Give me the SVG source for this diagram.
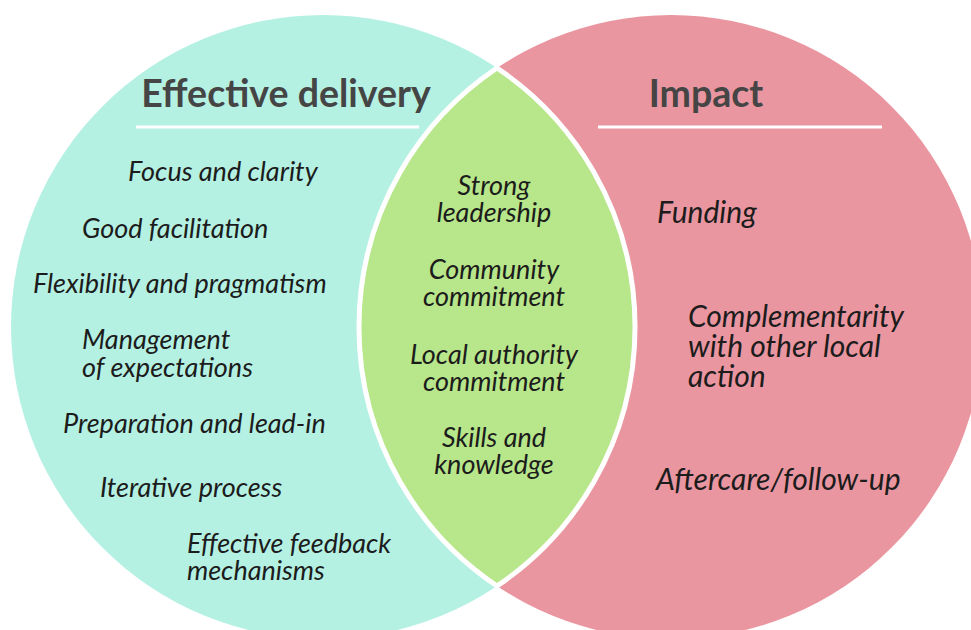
<svg xmlns="http://www.w3.org/2000/svg" width="971" height="630" viewBox="0 0 971 630">
<style>
.head{font-family:Lato,"Open Sans","Liberation Sans",sans-serif;font-weight:bold;font-size:37.5px;fill:#454545}
.item{font-family:Lato,"Open Sans","Liberation Sans",sans-serif;font-style:italic;font-size:27px;fill:#1c1c1c}
.mid{font-size:27px;text-anchor:middle}
.big{font-size:30px}
.rule{stroke:#ffffff;stroke-width:3}
</style>
<rect width="971" height="630" fill="#ffffff"/>
<g id="effective-delivery">
<circle cx="323" cy="327" r="312" fill="#b5f1e3"/>
</g>
<g id="impact">
<circle cx="671" cy="327" r="312" fill="#ea96a0"/>
</g>
<g id="overlap">
<path d="M497,68 A312,312 0 0 1 497,586 A312,312 0 0 1 497,68 Z" fill="#b8e68a" stroke="#ffffff" stroke-width="5"/>
</g>
<g id="labels-left">
<text class="head" x="286" y="107" text-anchor="middle">Effective delivery</text>
<line class="rule" x1="136" y1="127" x2="419" y2="127"/>
<text class="item" x="128" y="181">Focus and clarity</text>
<text class="item" x="82" y="238">Good facilitation</text>
<text class="item" x="33" y="293">Flexibility and pragmatism</text>
<text class="item" x="82" y="349">Management</text>
<text class="item" x="82" y="377">of expectations</text>
<text class="item" x="63" y="433">Preparation and lead-in</text>
<text class="item" x="100" y="497">Iterative process</text>
<text class="item" x="187" y="553">Effective feedback</text>
<text class="item" x="187" y="580">mechanisms</text>
</g>
<g id="labels-middle">
<text class="item mid" x="494" y="195">Strong</text>
<text class="item mid" x="494" y="222">leadership</text>
<text class="item mid" x="494" y="279">Community</text>
<text class="item mid" x="494" y="306">commitment</text>
<text class="item mid" x="494" y="364">Local authority</text>
<text class="item mid" x="494" y="391">commitment</text>
<text class="item mid" x="494" y="447">Skills and</text>
<text class="item mid" x="494" y="474">knowledge</text>
</g>
<g id="labels-right">
<text class="head" x="706" y="107" text-anchor="middle">Impact</text>
<line class="rule" x1="598" y1="127" x2="882" y2="127"/>
<text class="item big" x="657" y="223">Funding</text>
<text class="item big" x="688" y="327">Complementarity</text>
<text class="item big" x="688" y="357">with other local</text>
<text class="item big" x="688" y="387">action</text>
<text class="item big" x="656" y="490">Aftercare/follow-up</text>
</g>
</svg>
